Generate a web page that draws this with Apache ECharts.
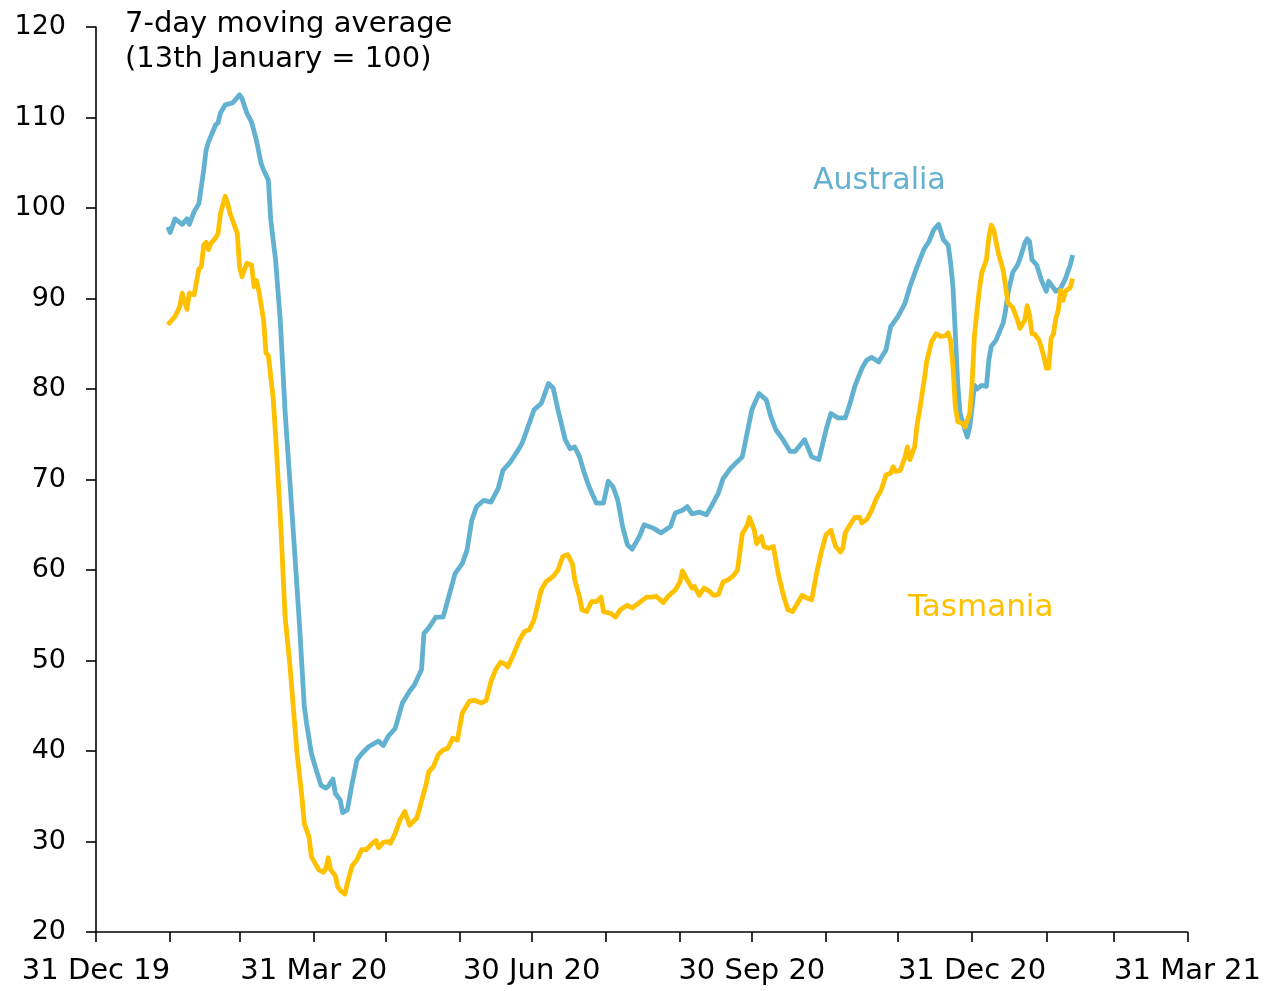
<!DOCTYPE html>
<html>
<head>
<meta charset="utf-8">
<script src="https://cdn.jsdelivr.net/npm/echarts@6/dist/echarts.min.js"></script>
<style>
  html, body { margin: 0; padding: 0; background: #fff; }
  #chart { width: 1264px; height: 991px; }
</style>
</head>
<body>
<div id="chart"></div>
<script>
// month-end ticks and quarter-end labels
var tickDates = ['2019-12-31','2020-01-31','2020-02-29','2020-03-31','2020-04-30','2020-05-31','2020-06-30',
    '2020-07-31','2020-08-31','2020-09-30','2020-10-31','2020-11-30','2020-12-31','2021-01-31','2021-02-28','2021-03-31'];
var labelDates = ['2019-12-31','2020-03-31','2020-06-30','2020-09-30','2020-12-31','2021-03-31'];
var monthNames = ['Jan','Feb','Mar','Apr','May','Jun','Jul','Aug','Sep','Oct','Nov','Dec'];
var yTicks = [20, 30, 40, 50, 60, 70, 80, 90, 100, 110, 120];

// readings, days after 31 Dec 2019
var ausDay = [30,31,33,36,38,39,41,43,45,46,47,50,51,52,54,57,58,60,61,63,65,67,69,70,72,73,75,77,79,82,
    85,86,87,88,90,92,94,96,97,99,100,102,103,105,107,109,111,114,118,120,122,125,128,131,133,136,137,139,142,145,
    147,150,153,155,157,159,162,165,168,170,173,176,178,181,183,186,187,189,191,193,196,198,200,202,204,206,209,212,214,216,
    218,220,222,224,227,229,233,236,240,242,245,247,249,252,255,257,260,262,265,268,270,272,274,277,280,282,284,287,290,292,
    296,299,302,305,307,310,313,315,317,320,322,324,327,330,332,335,338,340,343,346,348,350,352,354,356,357,358,359,360,361,
    363,364,365,366,367,368,370,372,373,374,376,379,380,381,383,385,386,388,389,390,391,393,395,397,398,401,403,405,407,408];
var ausVal = [97.9,97.3,98.8,98.2,98.8,98.2,99.6,100.5,104.2,106.4,107.3,109.2,109.4,110.5,111.4,111.6,111.9,112.5,112.1,110.5,109.5,107.5,104.9,104.2,103.1,98.7,94.3,87.5,77.5,65.9,
    54.0,49.5,45.0,43.0,39.7,37.9,36.2,35.9,36.1,36.9,35.3,34.6,33.2,33.5,36.4,39.0,39.7,40.5,41.1,40.6,41.6,42.5,45.3,46.6,47.3,49.0,53.0,53.6,54.8,54.8,
    56.7,59.6,60.7,62.2,65.5,67.0,67.7,67.5,69.0,71.0,71.9,73.1,74.0,76.2,77.7,78.4,79.1,80.6,80.1,77.7,74.4,73.4,73.6,72.5,70.7,69.2,67.4,67.4,69.8,69.2,
    67.7,64.8,62.8,62.3,63.7,65.0,64.6,64.1,64.8,66.3,66.6,67.0,66.2,66.4,66.1,67.0,68.5,70.1,71.2,72.0,72.5,75.1,77.7,79.5,78.8,76.9,75.5,74.4,73.1,73.1,
    74.4,72.5,72.2,75.5,77.3,76.8,76.8,78.4,80.3,82.3,83.2,83.5,83.0,84.3,86.9,88.0,89.5,91.3,93.5,95.5,96.3,97.6,98.2,96.5,95.9,94.0,91.3,86.1,80.6,77.3,
    75.5,74.7,75.8,78.0,80.4,80.0,80.4,80.3,83.2,84.7,85.4,87.3,88.7,90.6,92.9,93.7,94.4,96.1,96.6,96.3,94.3,93.7,92.0,90.8,91.9,90.8,91.1,92.2,93.7,94.8];

var tasDay = [30,33,35,36,38,39,41,43,44,45,46,47,48,50,51,52,54,55,56,57,59,60,61,63,65,66,67,68,70,71,
    72,74,75,77,78,79,81,84,86,87,89,90,93,95,96,97,98,100,101,102,104,105,107,109,111,113,115,117,118,120,
    122,123,125,127,129,131,134,135,138,139,141,143,145,147,149,151,153,156,158,161,163,165,167,169,171,172,174,177,179,181,
    183,185,186,188,191,193,195,197,199,200,202,203,205,207,209,211,212,215,217,219,222,224,227,230,232,234,237,239,242,244,
    245,247,249,250,252,254,256,258,260,262,264,266,268,269,270,272,273,275,276,278,279,281,283,285,287,289,291,293,295,297,
    299,301,303,305,307,309,311,312,313,315,317,319,320,322,324,326,328,330,332,333,334,336,338,339,340,342,343,344,346,347,
    349,351,353,355,356,357,358,359,360,362,363,365,366,367,368,369,370,372,373,374,375,377,379,380,381,383,385,386,388,389,
    390,391,392,394,396,397,398,399,400,401,402,403,404,405,407,408];
var tasVal = [87.1,88.0,89.1,90.6,88.8,90.6,90.4,93.3,93.5,95.9,96.2,95.4,96.1,96.7,97.2,99.4,101.3,100.5,99.4,98.7,97.2,93.5,92.4,93.9,93.7,91.3,92.0,90.9,87.6,84.0,
    83.7,79.0,75.0,65.9,60.4,54.8,49.5,39.7,35.0,32.0,30.5,28.3,26.9,26.6,27.0,28.2,26.9,26.2,25.0,24.6,24.2,25.4,27.3,28.0,29.1,29.1,29.7,30.1,29.3,29.9,
    30.0,29.8,30.9,32.4,33.3,31.8,32.6,33.5,36.4,37.7,38.3,39.6,40.1,40.3,41.4,41.2,44.2,45.5,45.6,45.3,45.6,47.7,49.0,49.8,49.6,49.3,50.4,52.3,53.2,53.4,
    54.5,56.7,57.8,58.7,59.3,60.0,61.5,61.7,60.7,58.9,57.0,55.6,55.4,56.5,56.5,57.0,55.4,55.2,54.8,55.6,56.1,55.8,56.4,57.0,57.0,57.1,56.4,57.1,57.8,58.7,
    59.9,58.9,58.0,58.2,57.2,58.0,57.7,57.2,57.3,58.7,58.9,59.3,60.0,62.0,64.0,64.9,65.8,64.4,62.9,63.7,62.6,62.4,62.6,59.6,57.4,55.6,55.4,56.3,57.2,56.9,
    56.7,59.6,62.0,63.9,64.4,62.6,62.0,62.4,64.1,65.0,65.8,65.8,65.2,65.6,66.6,67.9,68.8,70.5,70.7,71.4,70.9,71.0,72.5,73.6,72.2,73.6,76.0,77.5,81.0,83.0,
    85.2,86.1,85.8,85.9,86.2,85.3,82.5,78.0,76.4,76.2,75.8,77.3,80.6,86.0,88.5,90.9,92.8,94.3,96.8,98.1,97.6,95.0,93.1,91.3,89.5,89.0,87.6,86.7,87.6,89.2,
    88.2,86.1,86.1,85.4,83.6,82.3,82.3,85.6,86.1,87.8,88.7,90.9,89.8,90.8,91.2,92.2];

var fontName = 'DejaVu Sans';
var blue = '#62b1d0';
var yellow = '#ffc000';
var dayMs = 86400000;
var startMs = Date.UTC(2019, 11, 31);

// x axis works in days after 31 Dec 2019
var toDay = function(s) { return Math.round((new Date(s + 'T00:00:00Z').getTime() - startMs) / dayMs); };

var buildSeries = function(days, vals) {
    var out = [];
    for (var i = 0; i < days.length; i++) {
        out.push([days[i], vals[i]]);
    }
    return out;
};

var dateLabel = function(v) {
    var d = new Date(startMs + v * dayMs);
    return d.getUTCDate() + ' ' + monthNames[d.getUTCMonth()] + ' ' + String(d.getUTCFullYear()).slice(2);
};

var chart = echarts.init(document.getElementById('chart'), null, {renderer: 'canvas'});
var option = {
    animation: false,
    backgroundColor: '#fff',
    textStyle: {fontFamily: fontName},
    title: {
        text: '7-day moving average\n(13th January = 100)',
        left: 120, top: 2,
        textStyle: {fontSize: 29, fontWeight: 'normal', color: '#000', lineHeight: 35, fontFamily: fontName}
    },
    grid: {left: 96, right: 72, top: 27, bottom: 59, containLabel: false},
    xAxis: {
        type: 'value',
        min: toDay(tickDates[0]),
        max: toDay(tickDates[tickDates.length - 1]),
        axisLine: {lineStyle: {color: '#000', width: 1.6}},
        axisTick: {show: true, length: 10, lineStyle: {color: '#000', width: 1.6},
            customValues: tickDates.map(toDay)},
        axisLabel: {fontSize: 29, color: '#000', margin: 25, fontFamily: fontName,
            customValues: labelDates.map(toDay), formatter: dateLabel},
        splitLine: {show: false}
    },
    yAxis: {
        type: 'value',
        min: yTicks[0], max: yTicks[yTicks.length - 1], interval: 10,
        axisLine: {show: true, lineStyle: {color: '#000', width: 1.6}},
        axisTick: {show: true, length: 10, lineStyle: {color: '#000', width: 1.6}},
        axisLabel: {fontSize: 27, color: '#000', margin: 30, fontFamily: fontName},
        splitLine: {show: false}
    },
    graphic: [
        {type: 'text', left: 813, top: 166, style: {text: 'Australia', fill: blue, fontSize: 30, fontFamily: fontName}},
        {type: 'text', left: 908, top: 592, style: {text: 'Tasmania', fill: yellow, fontSize: 31, fontFamily: fontName}}
    ],
    series: [
        {name: 'Australia', type: 'line', showSymbol: false, smooth: false,
            lineStyle: {color: blue, width: 4.8, join: 'round'}, itemStyle: {color: blue},
            data: buildSeries(ausDay, ausVal)},
        {name: 'Tasmania', type: 'line', showSymbol: false, smooth: false,
            lineStyle: {color: yellow, width: 4.8, join: 'round'}, itemStyle: {color: yellow},
            data: buildSeries(tasDay, tasVal)}
    ]
};
chart.setOption(option);
</script>
</body>
</html>
